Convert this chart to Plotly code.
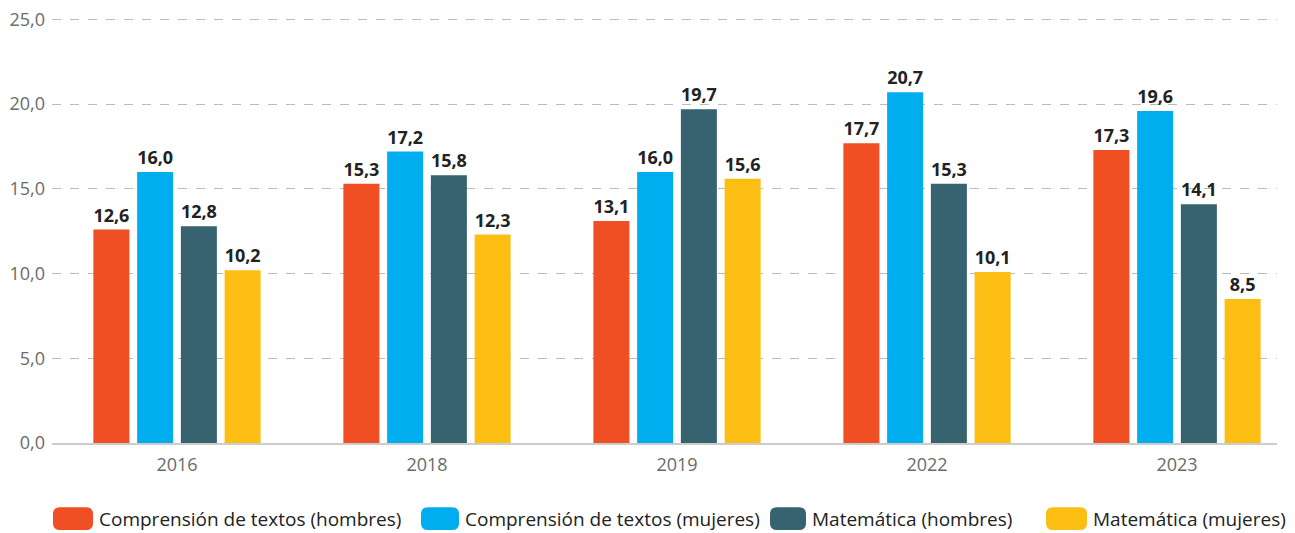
import plotly.graph_objects as go

years = ["2016", "2018", "2019", "2022", "2023"]
series_names = [
    "Comprensión de textos (hombres)",
    "Comprensión de textos (mujeres)",
    "Matemática (hombres)",
    "Matemática (mujeres)",
]
comp_hombres = [12.6, 15.3, 13.1, 17.7, 17.3]
comp_mujeres = [16.0, 17.2, 16.0, 20.7, 19.6]
mat_hombres = [12.8, 15.8, 19.7, 15.3, 14.1]
mat_mujeres = [10.2, 12.3, 15.6, 10.1, 8.5]
colors = ["#F04E23", "#00AEEF", "#36636F", "#FDBE14"]

W, H = 1295, 533
L, R, B = 52, 1277, 443
Y_TOP = 25.5
T = 15 - 0.5 * (B - 15) / 25  # keep y=25 at pixel 15

fig = go.Figure()
for name, vals, c in zip(series_names, [comp_hombres, comp_mujeres, mat_hombres, mat_mujeres], colors):
    fig.add_trace(go.Bar(
        x=list(range(len(years))), y=vals, name=name,
        marker=dict(color=c, line=dict(width=0)),
        texttemplate="<b>%{y:.1f}</b>", textposition="outside",
        textfont=dict(family="Open Sans", size=18, color="#222222"),
        cliponaxis=False, showlegend=False,
    ))

def px_x(p):
    return (p - L) / (R - L)

def px_y(p):
    return (B - p) / (B - T)

def rounded(x0, x1, y0, y1, r):
    X = px_x
    Y = px_y
    return (f"M {X(x0 + r)},{Y(y0)} L {X(x1 - r)},{Y(y0)} "
            f"Q {X(x1)},{Y(y0)} {X(x1)},{Y(y0 + r)} L {X(x1)},{Y(y1 - r)} "
            f"Q {X(x1)},{Y(y1)} {X(x1 - r)},{Y(y1)} L {X(x0 + r)},{Y(y1)} "
            f"Q {X(x0)},{Y(y1)} {X(x0)},{Y(y1 - r)} L {X(x0)},{Y(y0 + r)} "
            f"Q {X(x0)},{Y(y0)} {X(x0 + r)},{Y(y0)} Z")

# custom legend
leg = [(53, 93, 97), (421, 459, 463), (770, 806, 810), (1046, 1087, 1091)]
shapes = []
annotations = []
for (x0, x1, tx), name, c in zip(leg, series_names, colors):
    shapes.append(dict(type="path", xref="paper", yref="paper",
                       path=rounded(x0, x1, 508, 531, 7),
                       fillcolor=c, line=dict(width=0), layer="above"))
    annotations.append(dict(xref="paper", yref="paper", x=px_x(tx), y=px_y(519.5),
                            text=name, showarrow=False, xanchor="left", yanchor="middle",
                            font=dict(family="Open Sans", size=19, color="#222222")))

fig.update_layout(
    width=W, height=H,
    margin=dict(l=L, r=W - R, t=T, b=H - B, pad=0),
    paper_bgcolor="white", plot_bgcolor="white",
    separators=",.",
    barmode="group", bargap=0.3, bargroupgap=0.177,
    shapes=shapes, annotations=annotations,
    font=dict(family="Open Sans"),
    xaxis=dict(
        tickmode="array", tickvals=list(range(len(years))), ticktext=years,
        range=[-0.5, 4.4], showgrid=False, zeroline=False,
        showline=True, linecolor="#cccccc", linewidth=2,
        ticks="", ticklabelstandoff=4,
        tickfont=dict(family="Open Sans", size=18, color="#6b6b6b"),
    ),
    yaxis=dict(
        range=[0, Y_TOP], tickvals=[0, 5, 10, 15, 20, 25], tickformat=".1f",
        showgrid=True, gridcolor="#bbbbbb", griddash="dash", gridwidth=1,
        zeroline=False, showline=False, ticks="", ticklabelstandoff=6,
        tickfont=dict(family="Open Sans", size=18, color="#6b6b6b"),
    ),
)

fig.write_html("out.html", config={"displayModeBar": False},
               post_script="document.body.style.margin='0';document.body.style.overflow='hidden';")
